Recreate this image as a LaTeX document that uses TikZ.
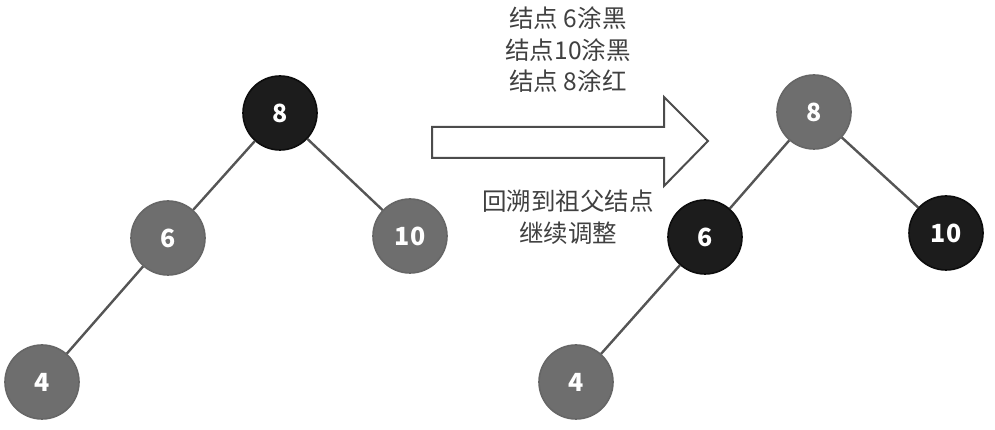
\documentclass[tikz,border=0pt]{standalone}
\usepackage{fontspec}
\setmainfont{Noto Sans CJK SC}
\usepackage{xcolor}
\usetikzlibrary{positioning,backgrounds}
\definecolor{blacknode}{HTML}{1C1C1C}
\definecolor{rednode}{HTML}{6E6E6E}
\definecolor{edgegray}{HTML}{555555}
\tikzset{
  rbnode/.style={circle,minimum size=74pt,inner sep=0pt,text=white,font=\fontsize{25}{25}\selectfont\bfseries,line width=1.6pt},
  blk/.style={rbnode,fill=blacknode,draw=black!95},
  red/.style={rbnode,fill=rednode,draw=black!60},
  link/.style={edgegray,line width=2.4pt},
  caption/.style={align=center,text=black!75,font=\fontsize{24.5}{31.5}\selectfont}
}
\begin{document}
\begin{tikzpicture}[x=1pt,y=1pt]
\useasboundingbox (0,0) rectangle (995,430);
% before
\node[blk] (a8) at (280,317) {8};
\node[red] (a6) at (168,192) {6};
\node[red] (a10) at (410,194) {10};
\node[red] (a4) at (42,48) {4};
\draw[link] (a8) -- (a6);
\draw[link] (a8) -- (a10);
\draw[link] (a6) -- (a4);
% arrow
\draw[black!70,line width=2pt,fill=white,line join=miter]
  (432,303) -- (664,303) -- (664,333) -- (708,289) -- (664,244) -- (664,272) -- (432,272) -- cycle;
\node[caption] (ops) at (568,380) {结点 6涂黑\\结点10涂黑\\结点 8涂红};
\node[caption] (up) at (568,213) {回溯到祖父结点\\继续调整};
% after
\node[red] (b8) at (814,318) {8};
\node[blk] (b6) at (705,193) {6};
\node[blk] (b10) at (946,197) {10};
\node[red] (b4) at (576,48) {4};
\draw[link] (b8) -- (b6);
\draw[link] (b8) -- (b10);
\draw[link] (b6) -- (b4);
\end{tikzpicture}
\end{document}
